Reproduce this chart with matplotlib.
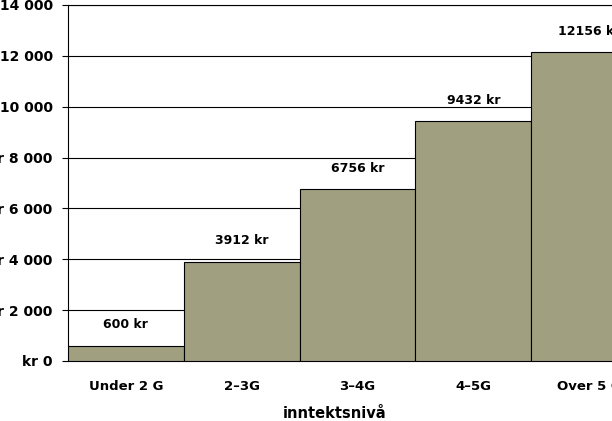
import matplotlib
matplotlib.use("Agg")
import matplotlib.pyplot as plt
from matplotlib.ticker import FuncFormatter

categories = ["Under 2 G", "2\u20133G", "3\u20134G", "4\u20135G", "Over 5 G"]
values = [600, 3912, 6756, 9432, 12156]
yticks = [0, 2000, 4000, 6000, 8000, 10000, 12000, 14000]

bar_color = "#A09F7F"

fig = plt.figure(figsize=(6.12, 4.21), dpi=100)
# axes run past the right edge of the figure, as in the reference
ax = fig.add_axes([68 / 612, 60 / 421, 579 / 612, 356 / 421])

x = list(range(len(categories)))
ax.bar(x, values, width=1.0, color=bar_color, edgecolor="black", linewidth=0.8, zorder=3)

for xi, v in zip(x, values):
    ax.annotate(f"{v} kr", (xi, v), xytext=(0, 15), textcoords="offset points",
                ha="center", va="center", fontsize=9, fontweight="bold", zorder=4)

ax.set_xlim(-0.5, 4.5)
ax.set_ylim(0, 14000)
ax.set_yticks(yticks)
ax.yaxis.set_major_formatter(FuncFormatter(
    lambda v, p: "kr " + f"{int(v):,}".replace(",", " ")))
ax.grid(axis="y", color="black", linewidth=0.8, zorder=0)
ax.set_axisbelow(True)

ax.set_xticks(x)
ax.set_xticklabels(categories, fontsize=9.5, fontweight="bold")
ax.tick_params(axis="x", length=0, pad=14)
ax.tick_params(axis="y", length=4.5, width=0.8, pad=6.5, labelsize=10)
for lbl in ax.get_yticklabels():
    lbl.set_fontweight("bold")

for s in ["left", "bottom", "top"]:
    ax.spines[s].set_linewidth(0.8)
ax.spines["right"].set_visible(False)

fig.text(335 / 612, 1 - 418 / 421, "inntektsniv\u00e5", ha="center", va="baseline",
         fontsize=10.5, fontweight="bold")

fig.savefig("out.png", dpi=100)
